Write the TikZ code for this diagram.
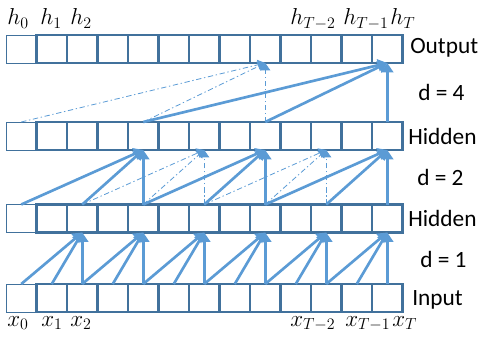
\documentclass[tikz,border=0pt]{standalone}
\usepackage{fontspec}
\newfontfamily\labelfont{Carlito}
\usetikzlibrary{arrows.meta}
\definecolor{cellblue}{HTML}{41719C}
\definecolor{linkblue}{HTML}{5B9BD5}

\begin{document}
\begin{tikzpicture}[
    x=0.75pt, y=-0.75pt,
    cell/.style={draw=cellblue, line width=2.2pt, minimum width=22.9pt, minimum height=21pt, inner sep=0pt, outer sep=0pt},
    pad/.style={cell, line width=0.6pt},
    rowlabel/.style={font=\labelfont\fontsize{17.5}{20}\selectfont, anchor=west, inner sep=0pt},
    idx/.style={font=\fontsize{18}{21}\selectfont, anchor=base west, inner sep=0pt},
    link/.style={-{Triangle[length=7pt,width=9pt]}, color=linkblue, line width=2pt},
    ghost/.style={-{Triangle[length=5.5pt,width=7.5pt]}, color=linkblue, line width=0.6pt, dash pattern=on 4pt off 2pt on 1pt off 2pt}
]
\useasboundingbox (0,0) rectangle (495,345);

% Rows of cells
\foreach \y/\layer in {49/output, 136/upper, 218.5/lower, 298/input} {
    \node[pad] (\layer0) at (21.25,\y) {};
    \foreach \i in {1,...,12}
        \node[cell] (\layer\i) at (21.25+30.5*\i,\y) {};
}

% d = 1
\foreach \t in {2,4,...,12} {
    \pgfmathtruncatemacro{\a}{\t-2}
    \pgfmathtruncatemacro{\b}{\t-1}
    \foreach \s in {\a,\b,\t}
        \draw[link] (input\s.north) -- (lower\t.south);
}

% d = 2
\foreach \t/\kind in {4/link, 6/ghost, 8/link, 10/ghost, 12/link} {
    \pgfmathtruncatemacro{\a}{\t-4}
    \pgfmathtruncatemacro{\b}{\t-2}
    \foreach \s in {\a,\b,\t}
        \draw[\kind] (lower\s.north) -- (upper\t.south);
}

% d = 4
\foreach \t/\kind in {8/ghost, 12/link} {
    \pgfmathtruncatemacro{\a}{\t-8}
    \pgfmathtruncatemacro{\b}{\t-4}
    \foreach \s in {\a,\b,\t}
        \draw[\kind] (upper\s.north) -- (output\t.south);
}

% Outputs and inputs
\node[idx] (h0) at (7,25) {$h_0$};
\node[idx] (h1) at (40,25) {$h_1$};
\node[idx] (h2) at (70,25) {$h_2$};
\node[idx] (hTa) at (290,25) {$h_{T-2}$};
\node[idx] (hTb) at (343,25) {$h_{T-1}$};
\node[idx] (hTc) at (390,25) {$h_T$};
\node[idx] (x0) at (7,326) {$x_0$};
\node[idx] (x1) at (41,326) {$x_1$};
\node[idx] (x2) at (70,326) {$x_2$};
\node[idx] (xTa) at (290,326) {$x_{T-2}$};
\node[idx] (xTb) at (345,326) {$x_{T-1}$};
\node[idx] (xTc) at (392,326) {$x_T$};

% Layer names and dilations
\node[rowlabel] (outname) at (410,48) {Output};
\node[rowlabel] (dfour) at (418,92) {d = 4};
\node[rowlabel] (uppername) at (408,136) {Hidden};
\node[rowlabel] (dtwo) at (417,177) {d = 2};
\node[rowlabel] (lowername) at (408,218) {Hidden};
\node[rowlabel] (done) at (420,259) {d = 1};
\node[rowlabel] (inname) at (412,300) {Input};

\end{tikzpicture}
\end{document}
